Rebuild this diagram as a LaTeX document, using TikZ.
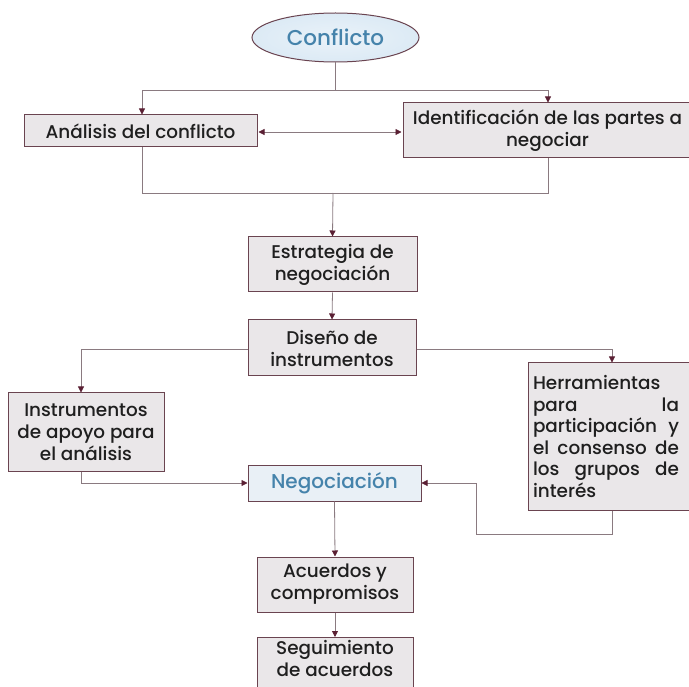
\documentclass[tikz,border=0pt]{standalone}
\usepackage{fontspec}
\setmainfont{Poppins Medium}
\usetikzlibrary{shapes.geometric,arrows.meta}
\definecolor{boxline}{HTML}{6A4450}
\definecolor{boxfill}{HTML}{EAE7E9}
\definecolor{wire}{HTML}{8A7A80}
\definecolor{tipc}{HTML}{5A1F33}
\definecolor{bluetext}{HTML}{4583AB}
\definecolor{bluefill}{HTML}{DCEAF5}
\definecolor{negfill}{HTML}{E9F0F6}
\tikzset{
  x=1pt, y=-1pt,
  stepbox/.style={draw=boxline, line width=1pt, fill=boxfill, inner sep=3pt,
    font=\fontsize{18.4}{22}\selectfont, text=black!88, align=center},
  conn/.style={draw=wire, line width=0.8pt},
  arr/.style={conn, -{Triangle[width=6pt,length=6pt,color=tipc]}},
  darr/.style={conn, {Triangle[width=6pt,length=6pt,color=tipc]}-{Triangle[width=6pt,length=6pt,color=tipc]}},
}
\begin{document}
\begin{tikzpicture}
\useasboundingbox (0,0) rectangle (689,687);
\clip (0,0) rectangle (689,687);
\fill[white] (0,0) rectangle (689,687);

% nodes
\node[ellipse, draw=boxline, line width=1pt, inner color=white!40!bluefill, outer color=bluefill,
      minimum width=167pt, minimum height=49pt, inner sep=0pt,
      font=\fontsize{21.5}{24}\selectfont, text=bluetext] (conf) at (335.5,37.5) {Conflicto};
\node[stepbox, minimum width=233pt, minimum height=32pt] (ana) at (140.5,131) {Análisis del conflicto};
\node[stepbox, minimum width=289pt, minimum height=55pt] (ide) at (547.5,130.5) {Identificación de las partes a\\negociar};
\node[stepbox, minimum width=169pt, minimum height=55pt] (est) at (332.5,264.5) {Estrategia de\\negociación};
\node[stepbox, minimum width=168pt, minimum height=56pt] (dis) at (332,348) {Diseño de\\instrumentos};
\node[stepbox, minimum width=156pt, minimum height=78pt] (ins) at (86,432) {Instrumentos\\de apoyo para\\el análisis};
\node[stepbox, minimum width=164pt, minimum height=147pt, inner sep=0pt] (her) at (610,436.5)
  {\parbox{146pt}{\raggedright\baselineskip=21.5pt Herramientas\\para\hfill la\\participación\hfill y\\el\hfill consenso\hfill de\\los\hfill grupos\hfill de\\interés}\hspace*{8pt}};
\node[stepbox, minimum width=173pt, minimum height=36pt, fill=negfill, text=bluetext,
      font=\fontsize{20}{22}\selectfont] (neg) at (334.5,483) {Negociación};
\node[stepbox, minimum width=156pt, minimum height=55pt] (acu) at (335,584.5) {Acuerdos y\\compromisos};
\node[stepbox, minimum width=156pt, minimum height=64pt, anchor=north] (seg) at (335,637) {Seguimiento\\de acuerdos\\[10pt]};

% junction points
\coordinate (m) at (333,193);
\coordinate (r) at (476,534);

% connectors
\draw[arr] (conf.south) -- ++(0,28) -| ([xshift=1.5pt]ana.north);
\draw[arr] (conf.south) -- ++(0,28) -| ([xshift=0.5pt]ide.north);
\draw[darr] ([xshift=1pt,yshift=-1pt]ana.east) -- ([xshift=-1pt,yshift=-1.5pt]ide.west);
\draw[conn] ([xshift=1.5pt]ana.south) |- (m);
\draw[conn] ([xshift=0.5pt]ide.south) |- (m);
\draw[arr] (m) -- (est.north);
\draw[arr] (est.south) -- (dis.north);
\draw[arr] ([yshift=-1pt]dis.west) -| ([xshift=-5pt]ins.north);
\draw[arr] ([yshift=-1pt]dis.east) -| ([xshift=2pt]her.north);
\draw[arr] ([xshift=-5pt]ins.south) |- (neg.west);
\draw[arr] ([xshift=2pt]her.south) |- (r) |- (neg.east);
\draw[arr] (neg.south) -- (acu.north);
\draw[arr] (acu.south) -- (seg.north);
\end{tikzpicture}
\end{document}
